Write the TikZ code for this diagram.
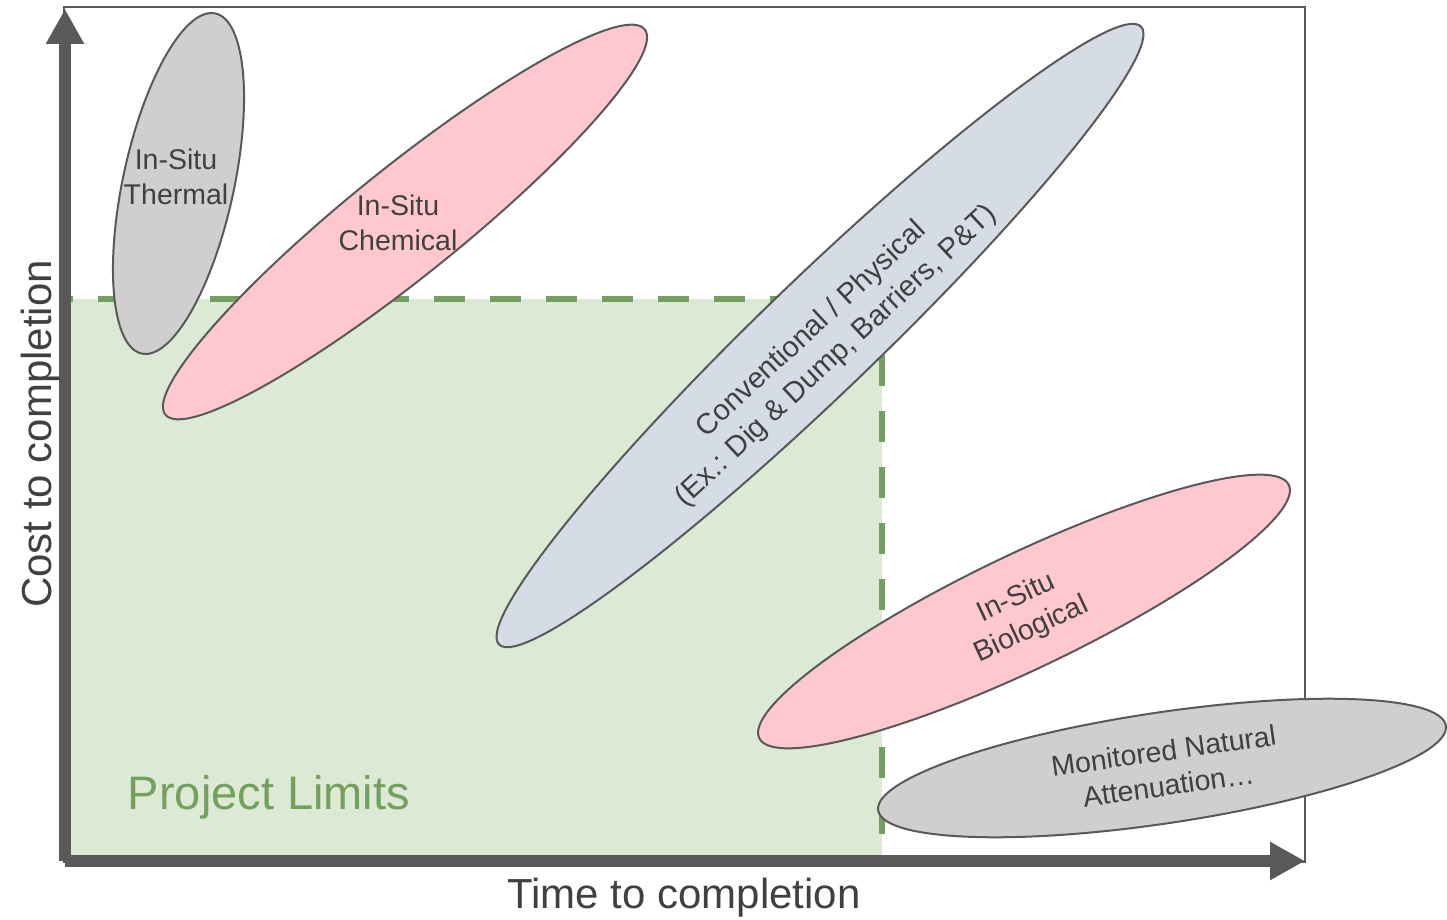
\documentclass[tikz,border=0pt]{standalone}
\usepackage{fontspec}
\setmainfont{Liberation Sans}
\usetikzlibrary{shapes.geometric,arrows.meta}
\definecolor{edge}{HTML}{595959}
\definecolor{txt}{HTML}{404040}
\definecolor{pinkf}{HTML}{FFC7CE}
\definecolor{grayf}{HTML}{D0CECE}
\definecolor{bluef}{HTML}{D6DCE5}
\definecolor{limitf}{HTML}{DCEAD5}
\definecolor{limitl}{HTML}{74A05E}
\begin{document}
\begin{tikzpicture}[x=1pt,y=-1pt,
  blob/.style={ellipse, draw=edge, line width=2pt, inner sep=0pt, outer sep=0pt},
  lbl/.style={text=txt, align=center, inner sep=0pt, font=\fontsize{28.5}{35}\selectfont},
  axlbl/.style={text=txt, inner sep=0pt, font=\fontsize{42}{50}\selectfont},
  axisline/.style={draw=edge, line width=12pt, -{Triangle[length=35pt,width=36pt]}},
]
\useasboundingbox (0,0) rectangle (1447,920);
% project limits area
\fill[limitf] (65,299) rectangle (882,861);
% frame
\draw[edge, line width=2pt] (64,7) rectangle (1305,862);
% dashed limit line
\coordinate (limA) at (65,299);
\coordinate (limB) at (882,299);
\coordinate (limC) at (882,855);
\draw[limitl, line width=6.5pt, dash pattern=on 31pt off 25pt, dash phase=23pt] (limA) -- (limB) -- (limC);
% axes
\coordinate (O) at (65,861);
\coordinate (ytip) at (65,9);
\coordinate (xtip) at (1305,861);
\draw[axisline] (O) -- (ytip);
\draw[axisline] (O) -- (xtip);
% ellipses
\node[blob, fill=grayf, minimum width=348pt, minimum height=111pt, rotate=77.8] (thermal) at (178.5,183.5) {};
\node[blob, fill=pinkf, minimum width=615pt, minimum height=109pt, rotate=38.8] (chem) at (405,222) {};
\node[blob, fill=bluef, minimum width=891pt, minimum height=115pt, rotate=43.9] (conv) at (820,335.5) {};
\node[blob, fill=pinkf, minimum width=587pt, minimum height=115pt, rotate=25.55] (bio) at (1024,611.5) {};
\node[blob, fill=grayf, minimum width=574pt, minimum height=111pt, rotate=8.47] (mna) at (1162,768) {};
% labels
\node[lbl] (thermalT) at (176,177) {In-Situ\\Thermal};
\node[lbl] (chemT) at (398,223) {In-Situ\\Chemical};
\node[lbl, rotate=43, font=\fontsize{29}{36}\selectfont] (convT) at (824,343) {Conventional / Physical\\(Ex.: Dig \& Dump, Barriers, P\&T)};
\node[lbl, rotate=25] (bioT) at (1024,614) {In-Situ\\Biological};
\node[lbl, rotate=8] (mnaT) at (1166,768) {Monitored Natural\\Attenuation…};
% axis labels
\node[axlbl, anchor=base] (xlab) at (684,908) {Time to completion};
\node[axlbl, anchor=base, rotate=90] (ylab) at (51,434) {Cost to completion};
\node[inner sep=0pt, anchor=base, text=limitl, font=\fontsize{47}{55}\selectfont] (limT) at (269,809) {Project Limits};
\end{tikzpicture}
\end{document}
